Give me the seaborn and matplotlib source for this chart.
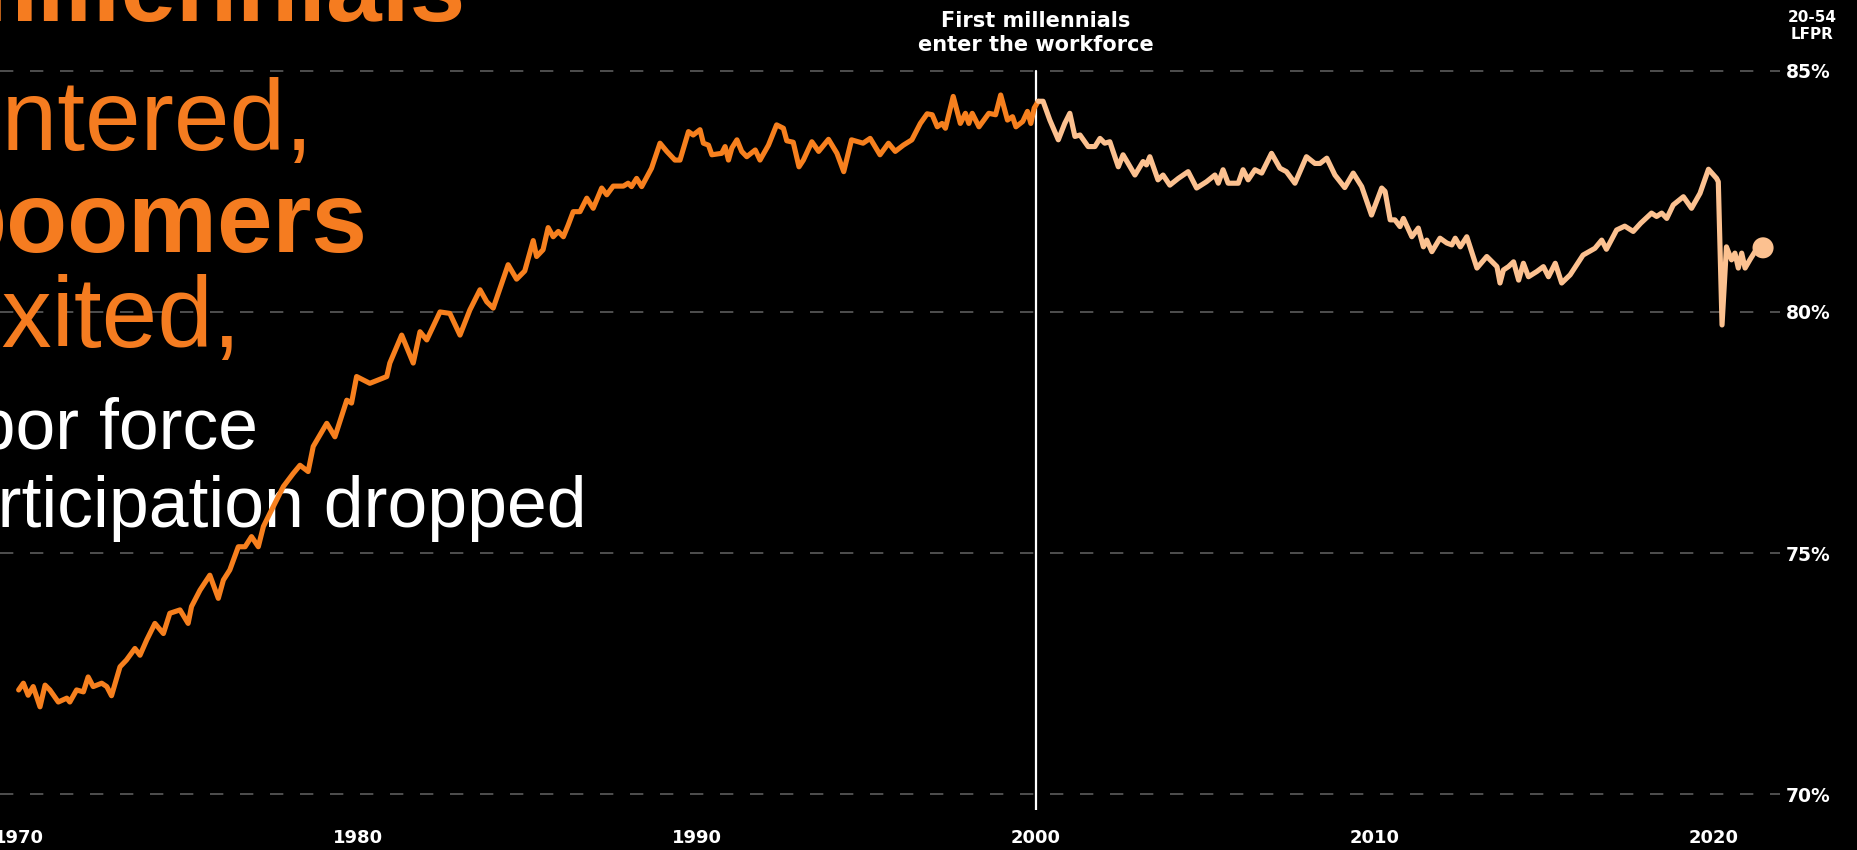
import pandas as pd
import seaborn as sns
import matplotlib.pyplot as plt
from matplotlib.transforms import blended_transform_factory

# prime-age (20-54) labor force participation rate
years = [1970.00, 1970.14, 1970.28, 1970.43, 1970.63, 1970.78, 1970.92, 1971.17, 1971.42, 1971.51,
         1971.71, 1971.91, 1972.05, 1972.20, 1972.45, 1972.60, 1972.74, 1972.99, 1973.18, 1973.43,
         1973.58, 1973.78, 1974.02, 1974.27, 1974.46, 1974.76, 1975.00, 1975.10, 1975.35, 1975.64,
         1975.89, 1976.04, 1976.23, 1976.48, 1976.68, 1976.87, 1977.07, 1977.22, 1977.41, 1977.81,
         1978.10, 1978.30, 1978.54, 1978.69, 1979.09, 1979.33, 1979.68, 1979.82, 1979.97, 1980.36,
         1980.86, 1980.95, 1981.30, 1981.64, 1981.84, 1982.04, 1982.43, 1982.72, 1983.02, 1983.31,
         1983.61, 1983.81, 1984.00, 1984.44, 1984.69, 1984.93, 1985.18, 1985.28, 1985.47, 1985.62,
         1985.77, 1985.92, 1986.07, 1986.21, 1986.36, 1986.56, 1986.76, 1986.95, 1987.20, 1987.35,
         1987.54, 1987.84, 1987.98, 1988.08, 1988.23, 1988.38, 1988.67, 1988.92, 1989.12, 1989.36,
         1989.51, 1989.76, 1989.90, 1990.10, 1990.20, 1990.35, 1990.45, 1990.74, 1990.84, 1990.94,
         1991.04, 1991.19, 1991.33, 1991.48, 1991.73, 1991.87, 1992.12, 1992.36, 1992.56, 1992.66,
         1992.85, 1993.02, 1993.15, 1993.40, 1993.60, 1993.89, 1994.14, 1994.34, 1994.57, 1994.77,
         1994.91, 1995.12, 1995.41, 1995.66, 1995.86, 1996.10, 1996.35, 1996.60, 1996.80, 1996.95,
         1997.10, 1997.24, 1997.34, 1997.57, 1997.78, 1997.93, 1998.03, 1998.13, 1998.33, 1998.62,
         1998.82, 1998.97, 1999.17, 1999.32, 1999.42, 1999.62, 1999.76, 1999.86, 1999.96, 2000.08,
         2000.22, 2000.42, 2000.67, 2000.86, 2001.01, 2001.16, 2001.31, 2001.55, 2001.75, 2001.90,
         2002.04, 2002.19, 2002.44, 2002.58, 2002.93, 2003.17, 2003.27, 2003.37, 2003.61, 2003.76,
         2003.96, 2004.21, 2004.50, 2004.75, 2005.04, 2005.29, 2005.39, 2005.53, 2005.68, 2005.98,
         2006.12, 2006.27, 2006.47, 2006.67, 2006.96, 2007.21, 2007.40, 2007.65, 2007.99, 2008.24,
         2008.39, 2008.59, 2008.83, 2009.12, 2009.37, 2009.62, 2009.91, 2010.21, 2010.31, 2010.46,
         2010.60, 2010.75, 2010.85, 2011.10, 2011.29, 2011.44, 2011.54, 2011.69, 2011.93, 2012.13,
         2012.28, 2012.38, 2012.53, 2012.72, 2013.02, 2013.31, 2013.61, 2013.70, 2013.80, 2013.95,
         2014.10, 2014.25, 2014.39, 2014.54, 2014.79, 2014.98, 2015.13, 2015.33, 2015.52, 2015.77,
         2016.15, 2016.50, 2016.70, 2016.84, 2017.14, 2017.38, 2017.63, 2017.85, 2018.17, 2018.32,
         2018.47, 2018.62, 2018.81, 2019.11, 2019.35, 2019.60, 2019.85, 2020.09, 2020.14, 2020.25,
         2020.38, 2020.53, 2020.63, 2020.73, 2020.83, 2020.93, 2021.07, 2021.22, 2021.46]
lfpr = [72.16, 72.30, 72.05, 72.23, 71.81, 72.26, 72.16, 71.91, 71.99, 71.91,
        72.16, 72.12, 72.43, 72.23, 72.30, 72.23, 72.04, 72.64, 72.78, 73.02,
        72.88, 73.20, 73.54, 73.33, 73.75, 73.82, 73.54, 73.89, 74.23, 74.54,
        74.06, 74.44, 74.65, 75.13, 75.13, 75.34, 75.13, 75.55, 75.82, 76.38,
        76.65, 76.82, 76.69, 77.21, 77.69, 77.41, 78.17, 78.11, 78.66, 78.52,
        78.66, 78.94, 79.52, 78.94, 79.59, 79.42, 80.00, 79.97, 79.52, 80.04,
        80.46, 80.21, 80.08, 80.98, 80.68, 80.85, 81.48, 81.15, 81.29, 81.75,
        81.56, 81.67, 81.56, 81.80, 82.08, 82.08, 82.36, 82.15, 82.57, 82.43,
        82.61, 82.61, 82.67, 82.60, 82.77, 82.60, 82.98, 83.50, 83.33, 83.15,
        83.15, 83.74, 83.67, 83.78, 83.50, 83.46, 83.26, 83.29, 83.43, 83.15,
        83.40, 83.57, 83.33, 83.22, 83.36, 83.15, 83.46, 83.88, 83.81, 83.55,
        83.52, 83.01, 83.15, 83.53, 83.33, 83.58, 83.29, 82.91, 83.57, 83.53,
        83.50, 83.60, 83.26, 83.50, 83.33, 83.46, 83.57, 83.91, 84.11, 84.09,
        83.84, 83.91, 83.81, 84.47, 83.91, 84.12, 83.91, 84.12, 83.84, 84.12,
        84.09, 84.50, 83.98, 84.05, 83.84, 83.95, 84.16, 83.91, 84.23, 84.37,
        84.37, 83.98, 83.57, 83.91, 84.12, 83.64, 83.67, 83.43, 83.43, 83.60,
        83.50, 83.53, 83.01, 83.26, 82.84, 83.12, 83.05, 83.22, 82.74, 82.84,
        82.63, 82.77, 82.91, 82.57, 82.70, 82.84, 82.67, 82.95, 82.67, 82.67,
        82.95, 82.74, 82.95, 82.88, 83.29, 82.98, 82.91, 82.67, 83.22, 83.08,
        83.08, 83.19, 82.84, 82.58, 82.88, 82.60, 82.01, 82.57, 82.50, 81.91,
        81.91, 81.77, 81.94, 81.56, 81.74, 81.35, 81.49, 81.25, 81.53, 81.43,
        81.39, 81.53, 81.35, 81.56, 80.91, 81.15, 80.94, 80.60, 80.87, 80.94,
        81.04, 80.66, 81.01, 80.73, 80.84, 80.94, 80.73, 81.01, 80.60, 80.77,
        81.18, 81.32, 81.49, 81.30, 81.70, 81.78, 81.67, 81.84, 82.05, 81.98,
        82.05, 81.94, 82.22, 82.39, 82.15, 82.46, 82.96, 82.77, 82.70, 79.73,
        81.35, 81.08, 81.22, 80.91, 81.22, 80.91, 81.08, 81.25, 81.33]

y_ticks = [70, 75, 80, 85]
y_tick_labels = ["70%", "75%", "80%", "85%"]
x_ticks = [1970, 1980, 1990, 2000, 2010, 2020]
x_tick_labels = ["1970", "1980", "1990", "2000", "2010", "2020"]
milestone = 2000.08

orange = "#F7801E"
peach = "#FCC190"
text_orange = "#F57C20"

sns.set_theme(style="dark", rc={"axes.facecolor": "black", "figure.facecolor": "black"})
plt.rcParams["font.family"] = ["DejaVu Sans"]

df = pd.DataFrame({"year": years, "lfpr": lfpr})
before = df[df["year"] <= milestone]
after = df[df["year"] >= milestone]

W, H = 1857, 850
fig = plt.figure(figsize=(W / 100, H / 100), dpi=100)
ax = fig.add_axes([0, 40 / H, 1780 / W, 810 / H])
ax.set_xlim(1969.45, 2021.96)
ax.set_ylim(69.67, 86.47)

sns.lineplot(data=before, x="year", y="lfpr", color=orange, lw=3.7, ax=ax, zorder=3)
sns.lineplot(data=after, x="year", y="lfpr", color=peach, lw=3.7, ax=ax, zorder=3)
sns.scatterplot(x=[years[-1]], y=[lfpr[-1]], color=peach, s=230, edgecolor="none", ax=ax, zorder=4)

ax.axvline(2000, ymin=0, ymax=(85 - 69.67) / (86.47 - 69.67), color="white", lw=1.6, zorder=2)

ax.set_xlabel("")
ax.set_ylabel("")
for s in ax.spines.values():
    s.set_visible(False)
ax.set_axisbelow(True)
ax.grid(axis="x", visible=False)
ax.grid(axis="y", color="#5c5c5c", lw=1.2, linestyle=(0, (8, 10)))

ax.yaxis.tick_right()
ax.set_yticks(y_ticks, y_tick_labels)
ax.set_xticks(x_ticks, x_tick_labels)
ax.tick_params(axis="y", length=0, pad=4, labelsize=13.5, labelcolor="white")
ax.tick_params(axis="x", length=0, pad=14, labelsize=13, labelcolor="white")
for lab in ax.get_xticklabels() + ax.get_yticklabels():
    lab.set_fontweight("bold")

bt = blended_transform_factory(ax.transData, fig.transFigure)
ax.text(2000, 1 - 33 / H, "First millennials\nenter the workforce", transform=bt,
        ha="center", va="center", ma="center", fontsize=15, fontweight="bold",
        color="white", linespacing=1.3, clip_on=False)
fig.text(1812 / W, 1 - 26 / H, "20-54\nLFPR", ha="center", va="center", ma="center",
         fontsize=11, fontweight="bold", color="white", linespacing=1.1)

# headline text, partly cut off on the left edge
headline = [
    ("millennials", -52, 21, 72, text_orange, "bold"),
    ("entered,", -53, 150, 72, text_orange, "normal"),
    ("boomers", -55, 252, 72, text_orange, "bold"),
    ("exited,", -53, 347, 72, text_orange, "normal"),
    ("labor force", -80, 449, 51.5, "white", "normal"),
    ("participation dropped", -82, 527, 51.5, "white", "normal"),
]
for txt, left, base, size, col, weight in headline:
    ax.text(left / W, 1 - base / H, txt, transform=fig.transFigure, ha="left", va="baseline",
            fontsize=size, color=col, fontweight=weight, family="Liberation Sans",
            zorder=1, clip_on=False)

fig.savefig("out.png", dpi=100, facecolor="black")
